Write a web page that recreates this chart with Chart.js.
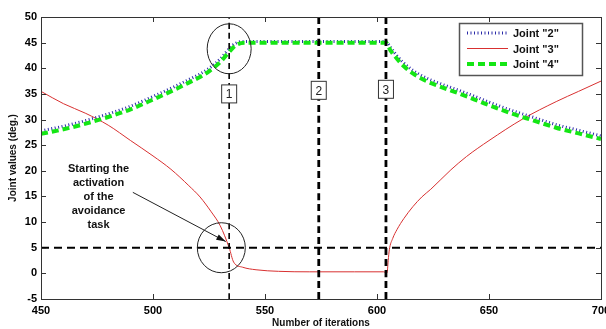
<!DOCTYPE html>
<html>
<head>
<meta charset="utf-8">
<script src="https://cdn.jsdelivr.net/npm/chart.js@4/dist/chart.umd.min.js"></script>
<style>
  html, body { margin: 0; padding: 0; background: #fff; }
</style>
</head>
<body>
<canvas id="chart" width="606" height="329"></canvas>
<script>
// values
var xTicks = [450, 500, 550, 600, 650, 700];
var yTicks = [-5, 0, 5, 10, 15, 20, 25, 30, 35, 40, 45, 50];

var iters24 = [450, 460, 470, 480, 490, 500, 510, 516, 521, 525, 530, 534, 537, 541, 550, 560, 570, 580, 590, 600, 604, 606, 609, 612, 616, 619, 623, 627, 634, 642, 650, 660, 670, 680, 690, 700];
var joint4 = [27.2, 28.1, 29.2, 30.5, 32.0, 33.9, 35.9, 37.2, 38.3, 39.4, 41.2, 43.2, 44.5, 45.0, 45.0, 45.0, 45.0, 45.0, 45.0, 45.0, 45.0, 43.5, 41.8, 40.4, 39.0, 38.2, 37.3, 36.6, 35.5, 34.2, 32.8, 31.2, 29.8, 28.4, 27.3, 26.2];
var joint2 = [27.8, 28.7, 29.8, 31.1, 32.6, 34.5, 36.5, 37.8, 38.9, 40.0, 41.8, 43.8, 44.9, 45.2, 45.2, 45.2, 45.2, 45.2, 45.2, 45.2, 45.2, 44.1, 42.4, 41.0, 39.6, 38.8, 37.9, 37.2, 36.1, 34.8, 33.4, 31.8, 30.4, 29.0, 27.9, 26.8];

var iters3 = [450, 460, 470, 480, 490, 500, 508, 516, 521, 526, 530, 534, 536, 540, 546, 556, 570, 590, 603, 604.5, 605, 605.5, 607, 609, 612, 616, 620, 624, 633, 640, 650, 665, 680, 690, 700];
var joint3 = [35.5, 33.1, 31.2, 28.9, 25.9, 22.9, 20.3, 17.1, 14.9, 12.0, 9.3, 5.0, 2.2, 1.2, 0.7, 0.4, 0.3, 0.3, 0.3, 0.1, 2.5, 4.6, 6.8, 8.6, 10.7, 13.0, 14.9, 16.4, 20.2, 22.8, 25.9, 30.1, 33.5, 35.5, 37.5];

var phaseIters = [534, 574, 604];
var phaseLabels = ['1', '2', '3'];
var threshold = 5;

var FONT = "'Liberation Sans', Arial, sans-serif";

function pts(xs, ys) {
  return xs.map((x, i) => ({x: x, y: ys[i]}));
}

var datasets = [
  {label: 'Joint "2"', data: pts(iters24, joint2), borderColor: '#2a2aa8', borderWidth: 3, borderDash: [1, 2.5], order: 2},
  {label: 'Joint "3"', data: pts(iters3, joint3), borderColor: '#d83030', borderWidth: 1, order: 2},
  {label: 'Joint "4"', data: pts(iters24, joint4), borderColor: '#14e614', borderWidth: 4, borderDash: [7, 4], order: 1}
];
var series = datasets.slice();

// threshold + phase marker lines
datasets.push({data: [{x: 450, y: threshold}, {x: 700, y: threshold}], borderColor: '#000', borderWidth: 2, borderDash: [8, 5], order: 0});
phaseIters.forEach((it, i) => {
  datasets.push({data: [{x: it, y: -5}, {x: it, y: 50}], borderColor: '#000', borderWidth: i === 0 ? 1.6 : 2.8, borderDash: i === 0 ? [6, 4] : [7, 4], order: 0});
});

var decor = {
  id: 'decor',
  afterDatasetsDraw(chart) {
    var ctx = chart.ctx, a = chart.chartArea;
    var xs = chart.scales.x, ys = chart.scales.y;
    var X = v => xs.getPixelForValue(v), Y = v => ys.getPixelForValue(v);
    ctx.save();

    // frame + inward ticks
    ctx.strokeStyle = '#333';
    ctx.lineWidth = 1;
    ctx.strokeRect(a.left + 0.5, a.top + 0.5, a.right - a.left, a.bottom - a.top);
    ctx.beginPath();
    xTicks.forEach(t => {
      var px = Math.round(X(t)) + 0.5;
      ctx.moveTo(px, a.bottom); ctx.lineTo(px, a.bottom - 5);
      ctx.moveTo(px, a.top); ctx.lineTo(px, a.top + 5);
    });
    yTicks.forEach(t => {
      var py = Math.round(Y(t)) + 0.5;
      ctx.moveTo(a.left, py); ctx.lineTo(a.left + 5, py);
      ctx.moveTo(a.right, py); ctx.lineTo(a.right - 5, py);
    });
    ctx.stroke();

    // circles
    ctx.strokeStyle = '#222';
    ctx.lineWidth = 1;
    ctx.beginPath();
    ctx.ellipse(X(534), Y(43.8), 22, 25, 0, 0, Math.PI * 2);
    ctx.stroke();
    ctx.beginPath();
    ctx.ellipse(X(530.5), Y(5), 24, 25, 0, 0, Math.PI * 2);
    ctx.stroke();

    // numbered boxes on the phase lines
    ctx.font = '12px ' + FONT;
    ctx.textAlign = 'center';
    ctx.textBaseline = 'middle';
    var boxY = [35, 35.7, 35.9];
    phaseIters.forEach((it, i) => {
      var cx = X(it), cy = Y(boxY[i]);
      ctx.fillStyle = '#fff';
      ctx.fillRect(cx - 7.5, cy - 9, 15, 18);
      ctx.strokeStyle = '#333';
      ctx.strokeRect(cx - 7.5, cy - 9, 15, 18);
      ctx.fillStyle = '#222';
      ctx.fillText(phaseLabels[i], cx, cy + 1);
    });

    // annotation
    ctx.font = 'bold 11px ' + FONT;
    ctx.fillStyle = '#111';
    ['Starting the', 'activation', 'of the', 'avoidance', 'task'].forEach((s, i) => {
      ctx.fillText(s, X(475.7), Y(20.3) + i * 14);
    });
    var x0 = X(491), y0 = Y(15.8), x1 = X(532.5), y1 = Y(6.2);
    ctx.strokeStyle = '#222';
    ctx.lineWidth = 1;
    ctx.beginPath(); ctx.moveTo(x0, y0); ctx.lineTo(x1, y1); ctx.stroke();
    var ang = Math.atan2(y1 - y0, x1 - x0);
    ctx.beginPath();
    ctx.moveTo(x1, y1);
    ctx.lineTo(x1 - 10 * Math.cos(ang - 0.3), y1 - 10 * Math.sin(ang - 0.3));
    ctx.lineTo(x1 - 10 * Math.cos(ang + 0.3), y1 - 10 * Math.sin(ang + 0.3));
    ctx.closePath();
    ctx.fillStyle = '#111';
    ctx.fill();

    // legend
    var lx = 459, ly = 23, lw = 123, lh = 52;
    ctx.fillStyle = '#fff';
    ctx.fillRect(lx, ly, lw, lh);
    ctx.strokeStyle = '#555';
    ctx.lineWidth = 1.5;
    ctx.strokeRect(lx + 0.5, ly + 0.5, lw, lh);
    series.forEach((d, i) => {
      var yy = ly + 10 + i * 15.5;
      ctx.strokeStyle = d.borderColor;
      ctx.lineWidth = d.borderWidth;
      ctx.setLineDash(d.borderDash || []);
      ctx.beginPath(); ctx.moveTo(lx + 8, yy); ctx.lineTo(lx + 49, yy); ctx.stroke();
      ctx.setLineDash([]);
      ctx.fillStyle = '#111';
      ctx.textAlign = 'left';
      ctx.font = 'bold 11px ' + FONT;
      ctx.fillText(d.label, lx + 54, yy + 1);
    });
    ctx.restore();
  }
};

new Chart(document.getElementById('chart'), {
  type: 'line',
  data: {datasets: datasets},
  options: {
    responsive: false,
    devicePixelRatio: 1,
    animation: false,
    elements: {
      point: {radius: 0},
      line: {cubicInterpolationMode: 'monotone', borderCapStyle: 'butt'}
    },
    layout: {padding: {top: 17, right: 5, left: 0, bottom: 0}},
    plugins: {legend: {display: false}, tooltip: {enabled: false}},
    scales: {
      x: {
        type: 'linear', min: 450, max: 700,
        afterBuildTicks: s => { s.ticks = xTicks.map(v => ({value: v})); },
        ticks: {color: '#000', padding: 5, maxRotation: 0, font: {family: FONT, size: 11, weight: 'bold'}},
        grid: {display: false, drawTicks: false},
        border: {display: false},
        title: {display: true, text: 'Number of iterations', color: '#111', padding: 0, font: {family: FONT, size: 10, weight: 'bold'}},
        afterFit: s => { s.height = 30; s.paddingLeft = 0; s.paddingRight = 0; }
      },
      y: {
        type: 'linear', min: -5, max: 50,
        afterBuildTicks: s => { s.ticks = yTicks.map(v => ({value: v})); },
        ticks: {color: '#000', padding: 4, font: {family: FONT, size: 11, weight: 'bold'}},
        grid: {display: false, drawTicks: false},
        border: {display: false},
        title: {display: true, text: 'Joint values (deg.)', color: '#111', padding: {top: 7, bottom: 0}, font: {family: FONT, size: 10, weight: 'bold'}},
        afterFit: s => { s.width = 41; s.paddingTop = 0; s.paddingBottom = 0; }
      }
    }
  },
  plugins: [decor]
});
</script>
</body>
</html>
